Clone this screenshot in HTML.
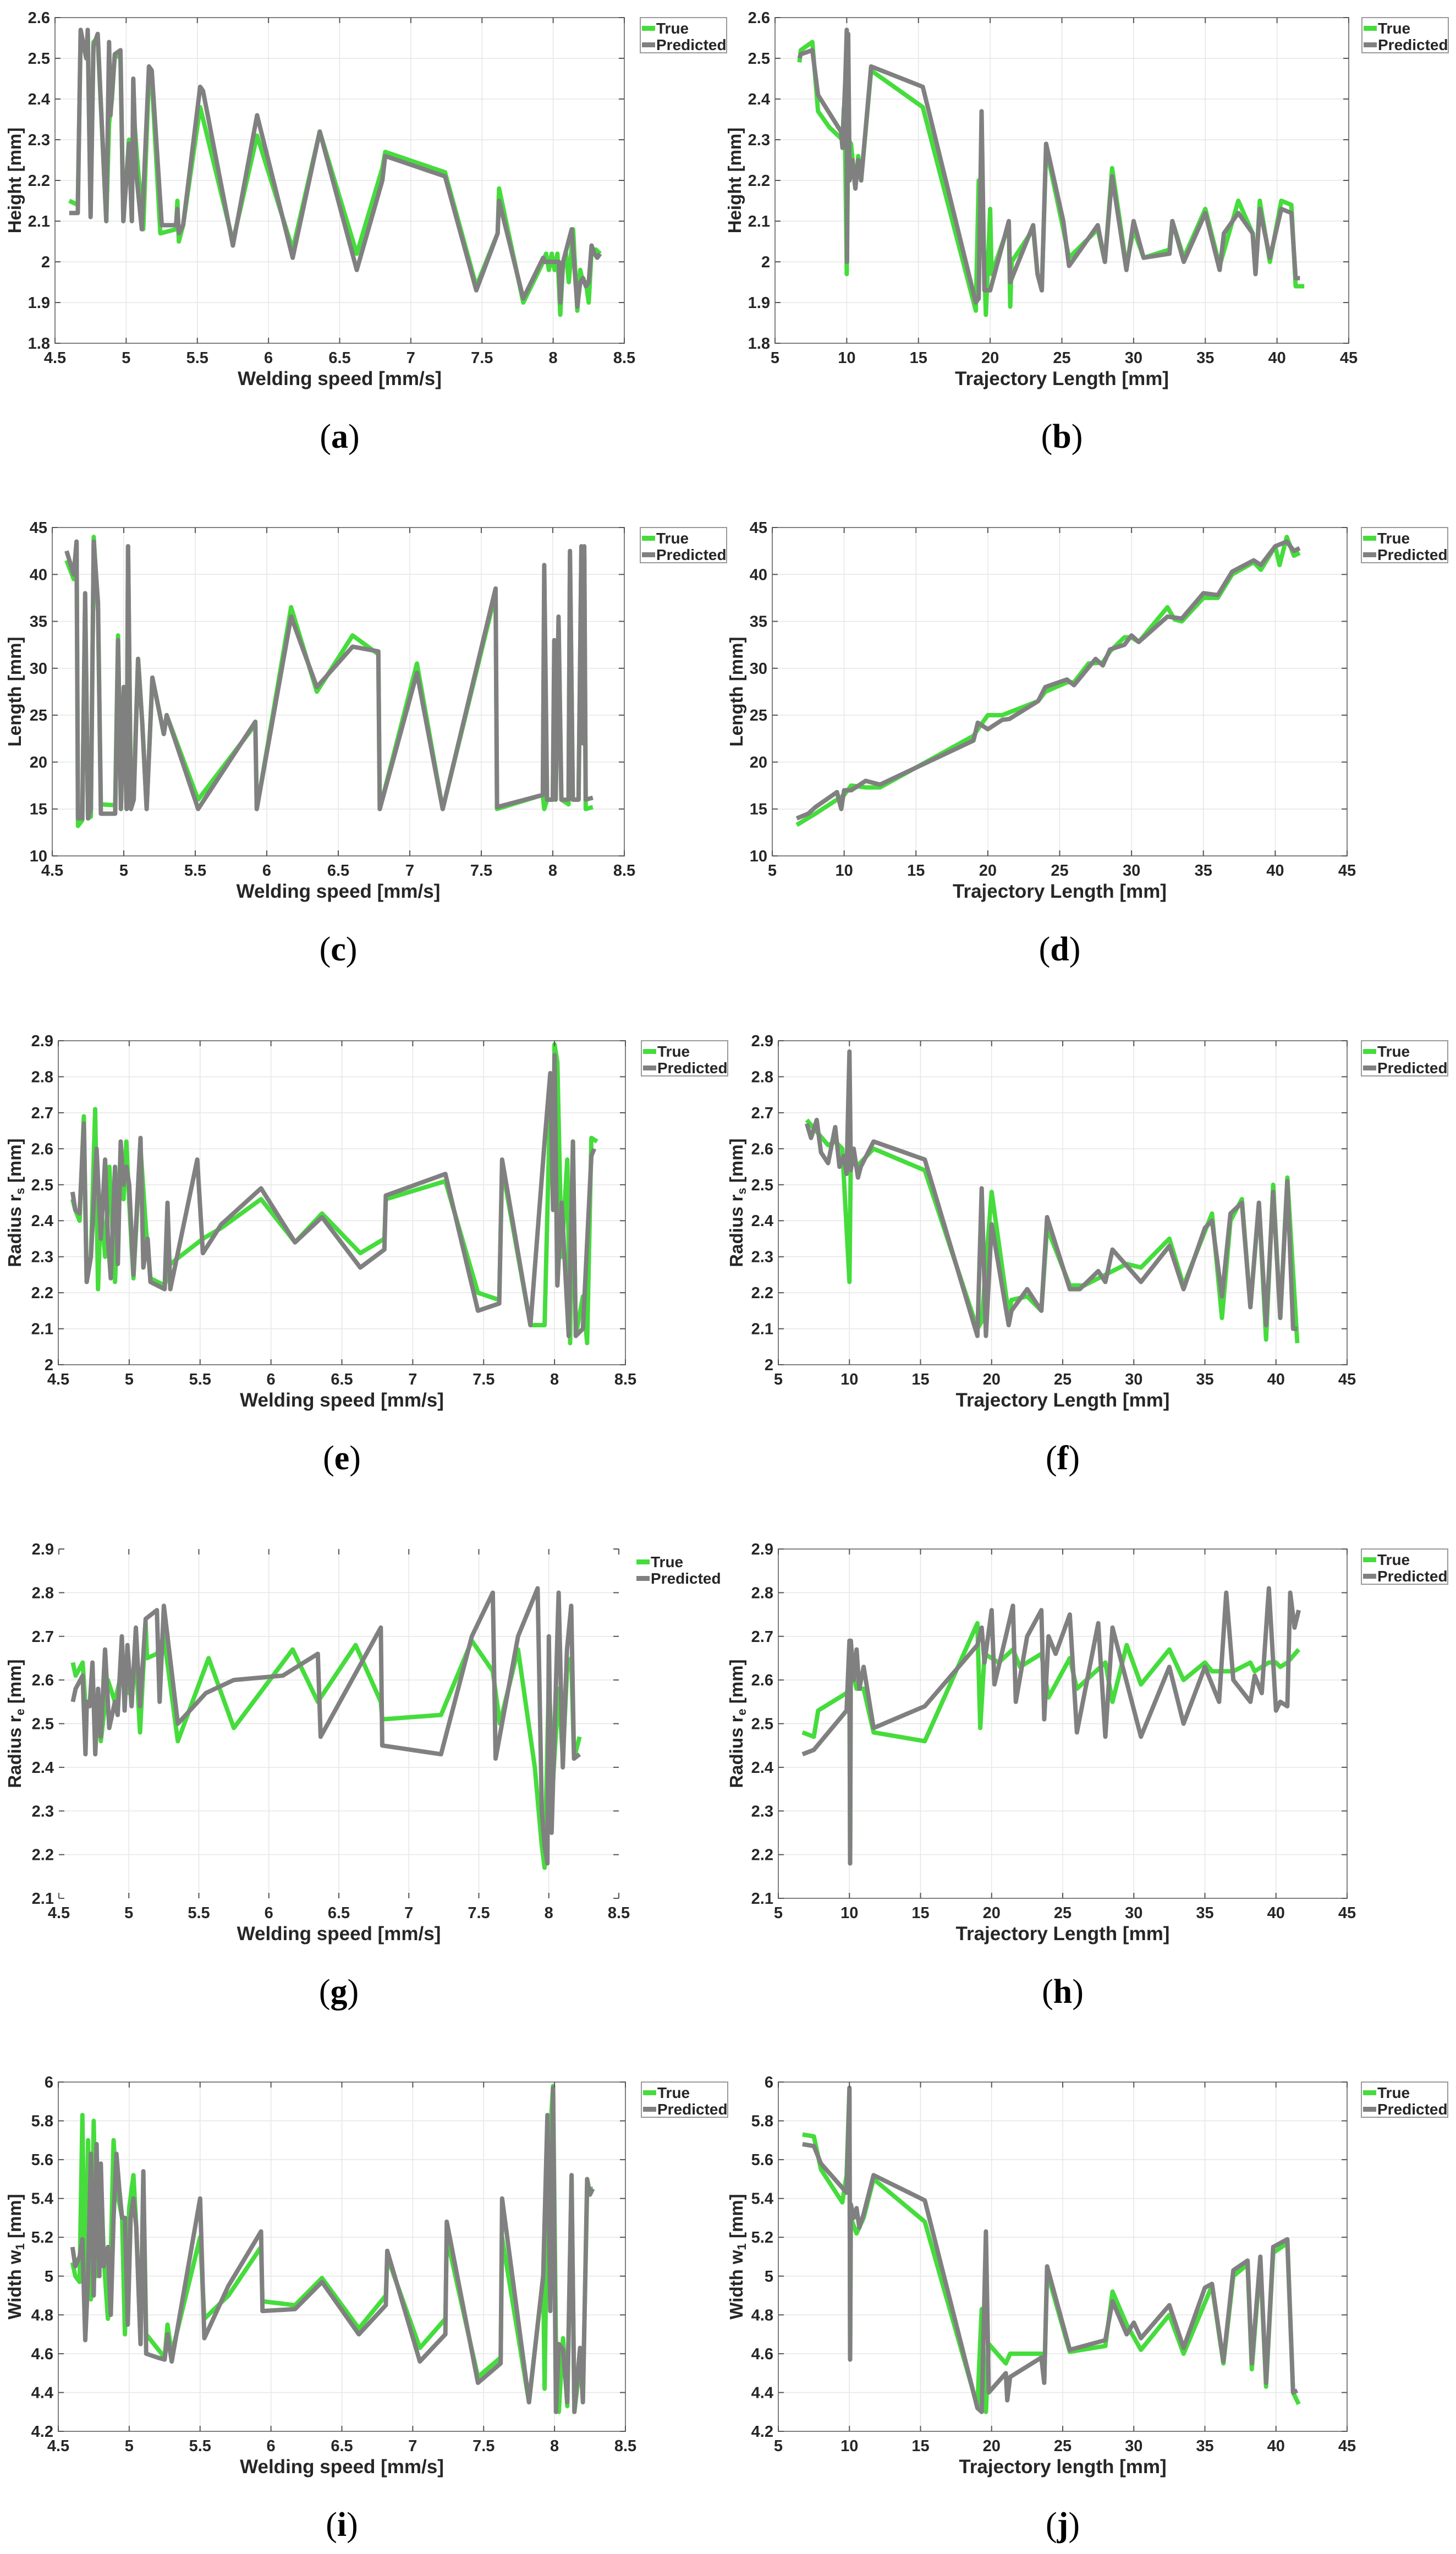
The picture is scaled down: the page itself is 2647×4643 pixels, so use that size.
<!DOCTYPE html>
<html><head><meta charset="utf-8">
<style>
html,body{margin:0;padding:0;background:#fff;}
svg{display:block;}
text{font-family:"Liberation Sans",Arial,sans-serif;}
</style></head>
<body>
<svg id="fig" xmlns="http://www.w3.org/2000/svg" width="2647" height="4643" viewBox="0 0 2647 4643"></svg>
<script>
// ---------- data (a) Height vs welding speed ----------
const a_true_x=[4.6,4.66,4.68,4.72,4.73,4.75,4.77,4.80,4.86,4.88,4.90,4.92,4.96,4.98,5.02,5.04,5.05,5.08,5.12,5.16,5.18,5.24,5.35,5.36,5.37,5.40,5.52,5.75,5.92,6.17,6.36,6.62,6.80,6.82,7.24,7.46,7.61,7.62,7.79,7.93,7.95,7.97,7.99,8.01,8.03,8.05,8.07,8.09,8.11,8.14,8.17,8.19,8.21,8.23,8.25,8.27,8.30,8.33];
const a_true_y=[2.15,2.14,2.56,2.50,2.56,2.12,2.54,2.55,2.10,2.34,2.40,2.51,2.50,2.10,2.30,2.10,2.38,2.24,2.08,2.46,2.45,2.07,2.08,2.15,2.05,2.09,2.38,2.05,2.31,2.03,2.32,2.02,2.23,2.27,2.22,1.94,2.07,2.18,1.90,2.00,2.02,1.98,2.02,1.98,2.02,1.87,2.00,2.02,1.95,2.08,1.88,1.98,1.95,1.95,1.90,2.03,2.03,2.02];
const a_pred_x=[4.6,4.66,4.68,4.72,4.73,4.75,4.77,4.80,4.86,4.88,4.89,4.92,4.96,4.98,5.02,5.04,5.05,5.07,5.11,5.16,5.18,5.25,5.35,5.36,5.37,5.40,5.52,5.54,5.75,5.92,6.17,6.36,6.62,6.80,6.82,7.24,7.46,7.61,7.62,7.79,7.93,7.94,8.04,8.05,8.07,8.13,8.17,8.19,8.21,8.23,8.25,8.27,8.29,8.31,8.33];
const a_pred_y=[2.12,2.12,2.57,2.50,2.57,2.11,2.53,2.56,2.10,2.54,2.36,2.51,2.52,2.10,2.29,2.10,2.45,2.22,2.08,2.48,2.47,2.09,2.09,2.13,2.07,2.09,2.43,2.42,2.04,2.36,2.01,2.32,1.98,2.20,2.26,2.21,1.93,2.07,2.15,1.91,2.01,2.00,2.00,1.90,2.00,2.08,1.89,1.95,1.96,1.94,1.95,2.04,2.02,2.01,2.02];
// ---------- (b) Height vs trajectory length ----------
const b_true_x=[6.7,6.8,7.6,8.0,8.8,9.7,9.8,9.9,10.0,10.1,10.3,10.6,10.8,11.0,11.7,15.3,19.0,19.2,19.5,19.7,20.0,20.1,21.3,21.4,21.5,23.0,23.3,23.6,23.9,25.1,25.5,27.5,28.0,28.5,29.5,30.0,30.7,32.5,32.7,33.5,35.0,36.0,37.3,38.3,38.5,38.8,39.5,40.3,41.0,41.3,41.9];
const b_true_y=[2.49,2.52,2.54,2.37,2.33,2.30,2.38,2.25,1.97,2.30,2.29,2.18,2.26,2.20,2.47,2.38,1.88,2.20,2.10,1.87,2.13,1.97,2.09,1.89,2.00,2.08,1.97,1.93,2.28,2.08,2.01,2.08,2.00,2.23,1.99,2.08,2.01,2.03,2.10,2.01,2.13,1.99,2.15,2.07,1.97,2.15,2.00,2.15,2.14,1.94,1.94];
const b_pred_x=[6.7,6.8,7.6,8.0,9.6,9.7,9.9,10.0,10.02,10.1,10.2,10.4,10.6,10.8,11.0,11.7,15.3,19.0,19.2,19.4,19.6,20.0,21.3,21.4,23.0,23.3,23.6,23.9,25.1,25.5,27.5,28.0,28.5,29.5,30.0,30.7,32.5,32.7,33.5,35.0,36.0,36.3,37.3,38.3,38.5,38.8,39.5,40.3,41.0,41.3,41.6];
const b_pred_y=[2.50,2.51,2.52,2.41,2.32,2.28,2.45,2.57,2.00,2.56,2.20,2.25,2.18,2.25,2.20,2.48,2.43,1.90,1.91,2.37,1.93,1.93,2.10,1.95,2.09,1.97,1.93,2.29,2.10,1.99,2.09,2.00,2.21,1.98,2.10,2.01,2.02,2.10,2.00,2.12,1.98,2.07,2.12,2.07,1.97,2.13,2.01,2.13,2.12,1.96,1.96];
// ---------- (c) Length vs welding speed ----------
const c_true_x=[4.6,4.65,4.67,4.68,4.71,4.73,4.75,4.77,4.79,4.82,4.84,4.94,4.96,4.98,5.00,5.02,5.03,5.05,5.07,5.10,5.13,5.16,5.20,5.28,5.30,5.52,5.92,5.93,6.17,6.35,6.60,6.78,6.79,7.05,7.23,7.60,7.61,7.93,7.94,7.96,8.00,8.01,8.02,8.04,8.06,8.11,8.12,8.14,8.18,8.20,8.21,8.22,8.23,8.28];
const c_true_y=[41.5,39.5,43.5,13.2,13.8,37.5,14,14.2,44,36,15.5,15.4,33.5,15,28,15,43,15.5,17,31,24,15,29,23,25,16,24,15,36.5,27.5,33.5,31.5,15,30.5,15,38,15,16.5,15,16,16,30,16,35,16,15.5,42,16,16,43,22,42,15,15.2];
const c_pred_x=[4.6,4.65,4.67,4.68,4.71,4.73,4.75,4.77,4.79,4.82,4.84,4.94,4.96,4.98,5.00,5.02,5.03,5.05,5.07,5.10,5.13,5.16,5.20,5.28,5.30,5.52,5.92,5.93,6.17,6.35,6.60,6.78,6.79,7.05,7.23,7.60,7.61,7.93,7.94,7.96,8.00,8.01,8.02,8.04,8.06,8.11,8.12,8.14,8.18,8.20,8.21,8.22,8.23,8.28];
const c_pred_y=[42.5,40,43.5,14,14,38,14,15,43.5,37,14.5,14.5,33,15,28,15,43,15,16,31,24,15,29,23,25,15,24.3,15,35.5,28,32.3,31.8,15,29.5,15,38.5,15.2,16.5,41,16,16,33,16,35.5,16,16,42.5,16,16,43,22,43,16,16.2];
// ---------- (d) Length vs trajectory length ----------
const d_true_x=[6.7,8,9.5,10,10.5,11.5,12.5,19,19.3,20,21,23.5,24,25.5,26,27,28,28.5,29.5,30,30.5,32.5,33,33.5,35,36,37,38.5,39,40,40.3,40.8,41.3,41.7];
const d_true_y=[13.3,14.5,16,16.5,17.5,17.3,17.3,22.8,23.5,25,25,26.5,27.5,28.5,28.5,30.5,30.6,31.8,33.3,33.3,32.8,36.5,35.2,35,37.5,37.5,40,41.3,40.5,43,41,44,42,42.3];
const d_pred_x=[6.7,7.5,8,9.5,9.8,10,10.5,11.5,12.5,19,19.3,20,21,21.5,23.5,24,25.5,26,27.5,28,28.5,29.5,30,30.5,32.5,33.5,35,36,37,38.5,39,40,40.8,41.3,41.7];
const d_pred_y=[14,14.5,15.2,16.8,15,17,17,18,17.6,22.3,24.2,23.5,24.5,24.6,26.5,28,28.8,28.2,31,30.3,32,32.5,33.5,32.8,35.5,35.3,38,37.8,40.3,41.5,41,43,43.5,42.5,42.8];
// ---------- (e) Radius rs vs welding speed ----------
const e_true_x=[4.6,4.62,4.65,4.68,4.70,4.73,4.76,4.78,4.80,4.83,4.86,4.90,4.94,4.96,4.98,5.00,5.03,5.08,5.12,5.15,5.25,5.29,5.52,5.65,5.93,6.17,6.36,6.63,6.80,6.81,7.23,7.46,7.61,7.63,7.83,7.93,7.97,7.99,8.00,8.02,8.05,8.09,8.11,8.13,8.15,8.20,8.23,8.26,8.30];
const e_true_y=[2.46,2.43,2.40,2.69,2.23,2.30,2.71,2.21,2.45,2.30,2.55,2.23,2.60,2.46,2.62,2.45,2.24,2.60,2.37,2.24,2.22,2.28,2.35,2.38,2.46,2.34,2.42,2.31,2.35,2.46,2.51,2.20,2.18,2.55,2.11,2.11,2.75,2.50,2.89,2.84,2.30,2.57,2.06,2.62,2.08,2.19,2.06,2.63,2.62];
const e_pred_x=[4.6,4.62,4.65,4.68,4.70,4.73,4.77,4.80,4.83,4.85,4.87,4.90,4.92,4.94,4.96,4.98,5.00,5.03,5.08,5.10,5.13,5.15,5.25,5.27,5.29,5.48,5.52,5.65,5.93,6.17,6.36,6.63,6.80,6.81,7.23,7.46,7.61,7.63,7.83,7.93,7.97,7.99,8.00,8.02,8.05,8.10,8.13,8.15,8.20,8.26,8.28];
const e_pred_y=[2.48,2.43,2.42,2.67,2.23,2.30,2.60,2.35,2.57,2.35,2.24,2.55,2.28,2.62,2.50,2.55,2.50,2.25,2.63,2.27,2.35,2.23,2.21,2.45,2.21,2.57,2.31,2.39,2.49,2.34,2.41,2.27,2.32,2.47,2.53,2.15,2.17,2.57,2.11,2.62,2.81,2.43,2.86,2.22,2.45,2.08,2.62,2.08,2.10,2.58,2.60];
// ---------- (f) Radius rs vs trajectory length ----------
const f_true_x=[7.0,8.5,9.0,9.5,10.0,10.1,10.5,11.7,15.3,19.0,19.3,20.0,21.2,21.4,22.5,23.5,23.9,25.5,26.5,27.5,28.5,29.5,30.5,32.5,33.5,35.5,36.2,36.8,37.6,38.2,38.8,39.3,39.8,40.3,40.8,41.5];
const f_true_y=[2.68,2.61,2.62,2.60,2.23,2.58,2.55,2.60,2.54,2.10,2.12,2.48,2.14,2.18,2.19,2.15,2.38,2.22,2.22,2.24,2.26,2.28,2.27,2.35,2.22,2.42,2.13,2.40,2.46,2.16,2.45,2.07,2.50,2.13,2.52,2.06];
const f_pred_x=[7.0,7.3,7.7,8.0,8.5,9.0,9.3,9.6,9.8,10.0,10.1,10.3,10.6,10.8,11.7,15.3,19.0,19.3,19.6,20.0,21.2,21.4,22.5,23.5,23.9,25.5,26.2,27.5,28.0,28.5,30.5,32.5,33.5,35.0,35.5,36.2,36.8,37.6,38.2,38.8,39.3,39.8,40.3,40.8,41.2,41.5];
const f_pred_y=[2.67,2.63,2.68,2.59,2.56,2.66,2.55,2.58,2.53,2.87,2.54,2.60,2.52,2.55,2.62,2.57,2.08,2.49,2.08,2.39,2.11,2.15,2.21,2.15,2.41,2.21,2.21,2.26,2.23,2.32,2.23,2.33,2.21,2.38,2.40,2.19,2.42,2.45,2.16,2.45,2.11,2.48,2.13,2.51,2.10,2.10];
// ---------- (g) Radius re vs welding speed ----------
const g_true_x=[4.6,4.62,4.67,4.69,4.72,4.77,4.80,4.85,4.90,4.95,5.00,5.05,5.08,5.12,5.13,5.20,5.25,5.35,5.57,5.75,6.17,6.35,6.62,6.80,6.81,7.23,7.45,7.60,7.65,7.78,7.90,7.95,7.97,8.00,8.03,8.07,8.10,8.13,8.16,8.18,8.22];
const g_true_y=[2.64,2.61,2.64,2.54,2.55,2.56,2.46,2.60,2.55,2.62,2.57,2.65,2.48,2.73,2.65,2.66,2.70,2.46,2.65,2.49,2.67,2.55,2.68,2.55,2.51,2.52,2.69,2.62,2.50,2.67,2.40,2.22,2.17,2.60,2.37,2.58,2.42,2.62,2.65,2.42,2.47];
const g_pred_x=[4.6,4.62,4.67,4.69,4.70,4.72,4.74,4.76,4.78,4.80,4.83,4.86,4.90,4.92,4.95,4.97,4.99,5.02,5.05,5.08,5.12,5.20,5.22,5.25,5.35,5.55,5.75,6.10,6.35,6.37,6.80,6.81,7.23,7.45,7.60,7.62,7.78,7.92,7.95,7.97,7.99,8.00,8.02,8.07,8.10,8.13,8.16,8.18,8.22];
const g_pred_y=[2.55,2.58,2.61,2.43,2.55,2.54,2.64,2.43,2.58,2.47,2.67,2.49,2.55,2.52,2.70,2.53,2.68,2.54,2.72,2.54,2.74,2.76,2.55,2.77,2.50,2.57,2.60,2.61,2.66,2.47,2.72,2.45,2.43,2.70,2.80,2.42,2.70,2.81,2.30,2.22,2.18,2.70,2.25,2.80,2.40,2.67,2.77,2.42,2.43];
// ---------- (h) Radius re vs trajectory length ----------
const h_true_x=[6.7,7.5,7.8,9.8,10.0,10.05,10.1,10.5,11.0,11.7,15.3,19.0,19.2,19.5,20.5,21.5,22.0,23.5,24.0,25.5,26.0,28.0,28.5,29.5,30.5,32.5,33.5,35.0,35.5,37.0,38.2,38.5,39.5,40.0,40.3,40.8,41.6];
const h_true_y=[2.48,2.47,2.53,2.57,2.59,2.18,2.64,2.58,2.58,2.48,2.46,2.73,2.49,2.66,2.64,2.67,2.63,2.66,2.56,2.65,2.58,2.64,2.55,2.68,2.59,2.67,2.60,2.64,2.62,2.62,2.64,2.62,2.64,2.64,2.63,2.64,2.67];
const h_pred_x=[6.7,7.5,9.8,10.0,10.05,10.1,10.3,10.5,10.7,11.0,11.7,15.3,19.0,19.3,19.5,20.0,20.2,21.0,21.5,21.7,22.5,23.5,23.7,24.0,24.5,25.5,26.0,27.5,28.0,28.5,30.5,32.5,33.5,35.0,36.0,36.5,37.0,38.2,38.5,39.0,39.5,40.0,40.3,40.8,41.0,41.3,41.6];
const h_pred_y=[2.43,2.44,2.53,2.69,2.18,2.69,2.60,2.67,2.58,2.63,2.49,2.54,2.68,2.72,2.64,2.76,2.59,2.70,2.77,2.55,2.70,2.76,2.51,2.70,2.66,2.75,2.48,2.73,2.47,2.72,2.47,2.63,2.50,2.63,2.55,2.80,2.60,2.55,2.61,2.57,2.81,2.53,2.55,2.54,2.80,2.72,2.76];
// ---------- (i) Width w1 vs welding speed ----------
const i_true_x=[4.6,4.62,4.65,4.67,4.69,4.71,4.73,4.75,4.77,4.80,4.82,4.85,4.87,4.89,4.91,4.95,4.97,5.00,5.03,5.05,5.08,5.10,5.12,5.25,5.27,5.30,5.50,5.53,5.70,5.93,5.94,6.17,6.36,6.62,6.81,6.82,7.05,7.23,7.24,7.46,7.62,7.63,7.82,7.92,7.93,7.95,7.99,8.01,8.03,8.06,8.09,8.12,8.14,8.18,8.20,8.23,8.27];
const i_true_y=[5.07,5.00,4.97,5.83,4.73,5.70,4.88,5.80,5.00,5.55,5.10,4.78,5.10,5.70,5.45,5.30,4.70,5.35,5.52,5.25,4.65,5.50,4.70,4.58,4.75,4.60,5.20,4.78,4.90,5.15,4.87,4.85,4.99,4.73,4.90,5.10,4.63,4.78,5.20,4.48,4.58,5.20,4.35,5.00,4.42,5.50,5.98,4.65,4.30,4.68,4.33,5.52,4.30,4.55,4.38,5.45,5.45];
const i_pred_x=[4.6,4.62,4.65,4.67,4.69,4.71,4.73,4.75,4.77,4.79,4.80,4.82,4.85,4.87,4.89,4.91,4.93,4.95,4.97,4.99,5.01,5.03,5.05,5.08,5.10,5.12,5.20,5.25,5.27,5.30,5.50,5.53,5.70,5.93,5.94,6.17,6.36,6.62,6.81,6.82,7.05,7.23,7.24,7.46,7.62,7.63,7.82,7.92,7.95,7.97,7.99,8.01,8.03,8.06,8.09,8.12,8.14,8.18,8.20,8.23,8.25,8.27];
const i_pred_y=[5.15,5.05,5.10,5.19,4.67,5.00,5.63,4.90,5.68,5.00,5.58,5.05,5.15,4.80,5.30,5.63,5.45,5.30,5.30,4.75,5.30,5.40,5.25,4.65,5.54,4.60,4.58,4.57,4.70,4.56,5.40,4.68,4.95,5.23,4.82,4.83,4.97,4.70,4.85,5.13,4.56,4.70,5.28,4.45,4.55,5.40,4.35,5.00,5.83,4.82,5.97,4.30,4.65,4.62,4.35,5.52,4.30,4.63,4.35,5.50,5.42,5.45];
// ---------- (j) Width w1 vs trajectory length ----------
const j_true_x=[6.7,7.5,8.0,9.5,9.8,10.0,10.05,10.1,10.5,11.0,11.7,15.3,19.0,19.3,19.6,19.8,21.0,21.3,23.5,23.7,23.9,25.5,28.0,28.5,29.5,30.5,32.5,33.5,35.5,36.3,37.0,38.0,38.3,38.9,39.3,39.8,40.8,41.2,41.6];
const j_true_y=[5.73,5.72,5.55,5.38,5.52,5.97,4.57,5.30,5.22,5.30,5.50,5.28,4.33,4.83,4.30,4.65,4.55,4.60,4.60,4.45,5.02,4.61,4.64,4.92,4.75,4.62,4.80,4.60,4.95,4.55,5.00,5.06,4.52,5.08,4.43,5.12,5.17,4.40,4.34];
const j_pred_x=[6.7,7.5,8.0,9.8,10.0,10.05,10.1,10.3,10.5,10.7,11.0,11.7,15.3,19.0,19.3,19.6,19.8,21.0,21.1,21.3,23.5,23.7,23.9,25.5,28.0,28.5,29.5,30.0,30.5,32.5,33.5,35.0,35.5,36.3,37.0,38.0,38.3,38.9,39.3,39.8,40.8,41.2,41.5];
const j_pred_y=[5.68,5.67,5.58,5.43,5.97,4.57,5.37,5.30,5.35,5.25,5.32,5.52,5.39,4.32,4.30,5.23,4.40,4.50,4.36,4.48,4.58,4.45,5.05,4.62,4.67,4.87,4.70,4.76,4.68,4.85,4.63,4.94,4.96,4.56,5.03,5.08,4.55,5.10,4.45,5.15,5.19,4.40,4.41];
// ---------- tick label arrays ----------
const speedTicks=["4.5","5","5.5","6","6.5","7","7.5","8","8.5"];
const trajTicks=["5","10","15","20","25","30","35","40","45"];
const heightTicks=["1.8","1.9","2","2.1","2.2","2.3","2.4","2.5","2.6"];
const lengthTicks=["10","15","20","25","30","35","40","45"];
const rsTicks=["2","2.1","2.2","2.3","2.4","2.5","2.6","2.7","2.8","2.9"];
const reTicks=["2.1","2.2","2.3","2.4","2.5","2.6","2.7","2.8","2.9"];
const wTicks=["4.2","4.4","4.6","4.8","5","5.2","5.4","5.6","5.8","6"];

const NS="http://www.w3.org/2000/svg";
const svg=document.getElementById('fig');
function mk(tag,attrs,parent){const e=document.createElementNS(NS,tag);for(const k in attrs)e.setAttribute(k,attrs[k]);(parent||svg).appendChild(e);return e;}

function panel(p){
  const g=mk('g',{});
  
  
  const L=p.l,R=p.r,T=p.t,B=p.b;
  const xt=p.xticks.map(Number), yt=p.yticks.map(Number);
  const x0=xt[0],x1=xt[xt.length-1],y0=yt[0],y1=yt[yt.length-1];
  const sx=v=>L+(v-x0)/(x1-x0)*(R-L);
  const sy=v=>B-(v-y0)/(y1-y0)*(B-T);
  xt.forEach((v,i)=>{ if(i>0&&i<xt.length-1){const l=mk('line',{x1:sx(v),x2:sx(v),y1:T,y2:B,stroke:'#e6e6e6','stroke-width':1.5},g);
    }});
  yt.forEach((v,i)=>{ if(i>0&&i<yt.length-1){const l=mk('line',{x1:L,x2:R,y1:sy(v),y2:sy(v),stroke:'#e6e6e6','stroke-width':1.5},g);
    }});
  const pts=(xs,ys)=>xs.map((v,i)=>sx(v).toFixed(1)+','+sy(ys[i]).toFixed(1)).join(' ');
  const tl=mk('polyline',{points:pts(p.tx,p.ty),fill:'none',stroke:'#45dc3c','stroke-width':8,'stroke-linejoin':'round'},g);
  
  
  const pl=mk('polyline',{points:pts(p.px,p.py),fill:'none',stroke:'#808080','stroke-width':8,'stroke-linejoin':'round'},g);
  
  
  if(!p.nobox){
    const bx=mk('rect',{x:L,y:T,width:R-L,height:B-T,fill:'none',stroke:'#808080','stroke-width':2},g);
    
    
  }
  xt.forEach(v=>{mk('line',{x1:sx(v),x2:sx(v),y1:B,y2:B-10,stroke:'#555','stroke-width':2},g);mk('line',{x1:sx(v),x2:sx(v),y1:T,y2:T+10,stroke:'#555','stroke-width':2},g);});
  yt.forEach(v=>{mk('line',{x1:L,x2:L+10,y1:sy(v),y2:sy(v),stroke:'#555','stroke-width':2},g);mk('line',{x1:R,x2:R-10,y1:sy(v),y2:sy(v),stroke:'#555','stroke-width':2},g);});
  p.xticks.forEach((s,i)=>{const t=mk('text',{x:sx(xt[i]),y:B+36,'text-anchor':'middle','font-size':29,'font-weight':'bold',fill:'#262626'},g);t.textContent=s;
    });
  p.yticks.forEach((s,i)=>{const t=mk('text',{x:L-9,y:sy(yt[i])+10,'text-anchor':'end','font-size':29,'font-weight':'bold',fill:'#262626'},g);t.textContent=s;
    });
  const xtl=mk('text',{x:(L+R)/2,y:B+76,'text-anchor':'middle','font-size':35,'font-weight':'bold',fill:'#262626'},g);
  xtl.textContent=p.xtitle;
  
  
  const ytl=mk('text',{x:0,y:0,'text-anchor':'middle','font-size':33,'font-weight':'bold',fill:'#262626',transform:`translate(${p.ytx},${(T+B)/2}) rotate(-90)`},g);
  
  
  if(p.ysub){
    const a=mk('tspan',{},ytl);a.textContent=p.ytitle;
    const s=mk('tspan',{'font-size':22,dy:6},ytl);s.textContent=p.ysub;
    const c=mk('tspan',{dy:-6},ytl);c.textContent=' [mm]';
  } else ytl.textContent=p.ytitle;
  const lx=R+p.lgdx, ly=T+(p.lgdy||0);
  const lg=mk('g',{},g);
  
  
  if(!p.nobox){mk('rect',{x:lx,y:ly,width:157,height:64,fill:'#fff',stroke:'#999','stroke-width':2},lg);}
  mk('rect',{x:lx+3,y:ly+15,width:24,height:9,fill:'#45dc3c'},lg);
  mk('rect',{x:lx+3,y:ly+45,width:24,height:9,fill:'#808080'},lg);
  const t1=mk('text',{x:lx+29,y:ly+29,'font-size':28,'font-weight':'bold',fill:'#262626'},lg);t1.textContent='True';
  
  const t2=mk('text',{x:lx+29,y:ly+59,'font-size':28,'font-weight':'bold',fill:'#262626'},lg);t2.textContent='Predicted';
  
  const cap=mk('text',{x:(L+R)/2,y:B+190,'text-anchor':'middle',style:'font-family:"Liberation Serif",serif;font-size:62px',fill:'#000'},g);
  
  
  const c1=mk('tspan',{},cap);c1.textContent='(';
  const c2=mk('tspan',{'font-weight':'bold'},cap);c2.textContent=p.id;
  const c3=mk('tspan',{},cap);c3.textContent=')';
}

panel({id:'a',l:100,r:1135,t:32,b:624,xticks:speedTicks,yticks:heightTicks,tx:a_true_x,ty:a_true_y,px:a_pred_x,py:a_pred_y,xtitle:'Welding speed [mm/s]',ytitle:'Height [mm]',ytx:38,lgdx:29});
panel({id:'b',l:1409,r:2452,t:32,b:624,xticks:trajTicks,yticks:heightTicks,tx:b_true_x,ty:b_true_y,px:b_pred_x,py:b_pred_y,xtitle:'Trajectory Length [mm]',ytitle:'Height [mm]',ytx:1347,lgdx:24});
panel({id:'c',l:95,r:1135,t:959,b:1556,xticks:speedTicks,yticks:lengthTicks,tx:c_true_x,ty:c_true_y,px:c_pred_x,py:c_pred_y,xtitle:'Welding speed [mm/s]',ytitle:'Length [mm]',ytx:38,lgdx:29});
panel({id:'d',l:1404,r:2449,t:959,b:1556,xticks:trajTicks,yticks:lengthTicks,tx:d_true_x,ty:d_true_y,px:d_pred_x,py:d_pred_y,xtitle:'Trajectory Length [mm]',ytitle:'Length [mm]',ytx:1350,lgdx:26});
panel({id:'e',l:106,r:1137,t:1892,b:2481,xticks:speedTicks,yticks:rsTicks,tx:e_true_x,ty:e_true_y,px:e_pred_x,py:e_pred_y,xtitle:'Welding speed [mm/s]',ytitle:'Radius r',ysub:'s',ytx:38,lgdx:29});
panel({id:'f',l:1415,r:2449,t:1892,b:2481,xticks:trajTicks,yticks:rsTicks,tx:f_true_x,ty:f_true_y,px:f_pred_x,py:f_pred_y,xtitle:'Trajectory Length [mm]',ytitle:'Radius r',ysub:'s',ytx:1350,lgdx:26});
panel({id:'g',l:107,r:1125,t:2816,b:3451,xticks:speedTicks,yticks:reTicks,tx:g_true_x,ty:g_true_y,px:g_pred_x,py:g_pred_y,xtitle:'Welding speed [mm/s]',ytitle:'Radius r',ysub:'e',ytx:38,lgdx:29,lgdy:4,nobox:true});
panel({id:'h',l:1415,r:2449,t:2816,b:3451,xticks:trajTicks,yticks:reTicks,tx:h_true_x,ty:h_true_y,px:h_pred_x,py:h_pred_y,xtitle:'Trajectory Length [mm]',ytitle:'Radius r',ysub:'e',ytx:1350,lgdx:26});
panel({id:'i',l:106,r:1137,t:3785,b:4420,xticks:speedTicks,yticks:wTicks,tx:i_true_x,ty:i_true_y,px:i_pred_x,py:i_pred_y,xtitle:'Welding speed [mm/s]',ytitle:'Width w',ysub:'1',ytx:38,lgdx:29});
panel({id:'j',l:1415,r:2449,t:3785,b:4420,xticks:trajTicks,yticks:wTicks,tx:j_true_x,ty:j_true_y,px:j_pred_x,py:j_pred_y,xtitle:'Trajectory length [mm]',ytitle:'Width w',ysub:'1',ytx:1350,lgdx:26});
</script>
</body></html>
